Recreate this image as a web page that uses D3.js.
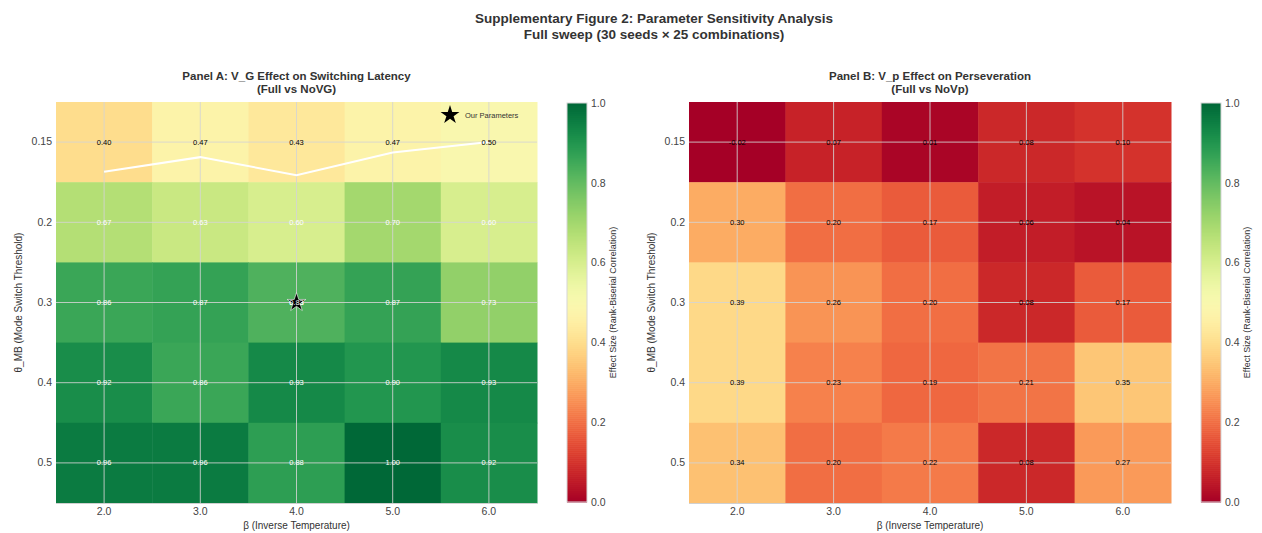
<!DOCTYPE html>
<html>
<head>
<meta charset="utf-8">
<script src="https://cdn.jsdelivr.net/npm/d3@7"></script>
<style>
    body { margin: 0; background: #fff; }
    svg { font-family: "Liberation Sans", Arial, sans-serif; }
</style>
</head>
<body>
<svg id="chart" width="1262" height="533"></svg>
<script>
// beta (columns) and theta_MB (rows)
const betaLabels = ['2.0', '3.0', '4.0', '5.0', '6.0'];
const thetaLabels = ['0.15', '0.2', '0.3', '0.4', '0.5'];

// Panel A: V_G effect on switching latency (Full vs NoVG)
const valuesVG = [
    [0.40, 0.47, 0.43, 0.47, 0.50],
    [0.67, 0.63, 0.60, 0.70, 0.60],
    [0.86, 0.87, 0.83, 0.87, 0.73],
    [0.92, 0.86, 0.93, 0.90, 0.93],
    [0.96, 0.96, 0.88, 1.00, 0.92]
];

// Panel B: V_p effect on perseveration (Full vs NoVp)
const valuesVp = [
    [-0.02, 0.07, 0.01, 0.08, 0.10],
    [0.30, 0.20, 0.17, 0.06, 0.04],
    [0.39, 0.26, 0.20, 0.08, 0.17],
    [0.39, 0.23, 0.19, 0.21, 0.35],
    [0.34, 0.20, 0.22, 0.08, 0.27]
];

const colorTicks = [0, 0.2, 0.4, 0.6, 0.8, 1.0];
const ourParams = { beta: '4.0', theta: '0.3' };
const contourLevel = 0.5;

const textColor = '#333';
const color = d3.scaleSequential(d3.interpolateRdYlGn).domain([0, 1]).clamp(true);

const svg = d3.select('#chart');

svg.append('text')
    .attr('x', 654)
    .attr('y', 23)
    .attr('text-anchor', 'middle')
    .attr('font-size', 13.5)
    .attr('font-weight', 'bold')
    .attr('fill', textColor)
    .text('Supplementary Figure 2: Parameter Sensitivity Analysis');

svg.append('text')
    .attr('x', 654)
    .attr('y', 39)
    .attr('text-anchor', 'middle')
    .attr('font-size', 13.5)
    .attr('font-weight', 'bold')
    .attr('fill', textColor)
    .text('Full sweep (30 seeds \u00d7 25 combinations)');

function drawPanel(opts) {
    const { left, right, top, bottom, values, title, subtitle, cbarX, showStar, showContour } = opts;

    const x = d3.scaleBand().domain(betaLabels).range([left, right]).padding(0);
    const y = d3.scaleBand().domain(thetaLabels).range([top, bottom]).padding(0);
    const g = svg.append('g');

    const cells = [];
    values.forEach((row, ri) => {
        row.forEach((v, ci) => {
            cells.push({ beta: betaLabels[ci], theta: thetaLabels[ri], v });
        });
    });

    g.selectAll('rect.cell')
        .data(cells)
        .enter()
        .append('rect')
        .attr('class', 'cell')
        .attr('x', d => x(d.beta))
        .attr('y', d => y(d.theta))
        .attr('width', x.bandwidth() + 0.5)
        .attr('height', y.bandwidth() + 0.5)
        .attr('fill', d => color(d.v));

    // grid at tick positions
    g.selectAll('line.gx')
        .data(betaLabels)
        .enter()
        .append('line')
        .attr('x1', d => x(d) + x.bandwidth() / 2)
        .attr('x2', d => x(d) + x.bandwidth() / 2)
        .attr('y1', top)
        .attr('y2', bottom)
        .attr('stroke', '#d4d4d4')
        .attr('stroke-opacity', 0.85)
        .attr('stroke-width', 1);

    g.selectAll('line.gy')
        .data(thetaLabels)
        .enter()
        .append('line')
        .attr('x1', left)
        .attr('x2', right)
        .attr('y1', d => y(d) + y.bandwidth() / 2)
        .attr('y2', d => y(d) + y.bandwidth() / 2)
        .attr('stroke', '#d4d4d4')
        .attr('stroke-opacity', 0.85)
        .attr('stroke-width', 1);

    if (showContour) {
        // contour of contourLevel, interpolated down each column between row centres
        const rowPos = d3.scaleLinear()
            .domain([0, thetaLabels.length - 1])
            .range([y(thetaLabels[0]) + y.bandwidth() / 2, y(thetaLabels[thetaLabels.length - 1]) + y.bandwidth() / 2]);
        const pts = [];
        betaLabels.forEach((b, ci) => {
            for (let ri = 0; ri < values.length - 1; ri++) {
                const a = values[ri][ci];
                const c = values[ri + 1][ci];
                if ((a - contourLevel) * (c - contourLevel) <= 0 && a !== c) {
                    const t = (contourLevel - a) / (c - a);
                    pts.push([x(b) + x.bandwidth() / 2, rowPos(ri + t)]);
                    break;
                }
            }
        });
        g.append('path')
            .attr('d', d3.line()(pts))
            .attr('fill', 'none')
            .attr('stroke', '#fff')
            .attr('stroke-width', 2);
    }

    g.selectAll('text.val')
        .data(cells)
        .enter()
        .append('text')
        .attr('x', d => x(d.beta) + x.bandwidth() / 2)
        .attr('y', d => y(d.theta) + y.bandwidth() / 2 + 2.5)
        .attr('text-anchor', 'middle')
        .attr('font-size', 7.5)
        .attr('fill', d => (d.v > 0.5 ? '#fff' : '#000'))
        .text(d => d.v.toFixed(2));

    if (showStar) {
        const star = d3.symbol().type(d3.symbolStar).size(110);
        g.append('path')
            .attr('d', star())
            .attr('transform', `translate(${x(ourParams.beta) + x.bandwidth() / 2},${y(ourParams.theta) + y.bandwidth() / 2})`)
            .attr('fill', '#000')
            .attr('stroke', '#fff')
            .attr('stroke-width', 0.6);
        // re-draw that cell's value over the star
        const c = cells.find(d => d.beta === ourParams.beta && d.theta === ourParams.theta);
        g.append('text')
            .attr('x', x(c.beta) + x.bandwidth() / 2)
            .attr('y', y(c.theta) + y.bandwidth() / 2 + 2.5)
            .attr('text-anchor', 'middle')
            .attr('font-size', 7.5)
            .attr('fill', '#fff')
            .text(c.v.toFixed(2));

        // legend
        g.append('path')
            .attr('d', star())
            .attr('transform', `translate(${right - 87},${top + 13})`)
            .attr('fill', '#000');
        g.append('text')
            .attr('x', right - 72)
            .attr('y', top + 16)
            .attr('font-size', 7.5)
            .attr('fill', textColor)
            .text('Our Parameters');
    }

    // bottom spine
    g.append('line')
        .attr('x1', left)
        .attr('x2', right)
        .attr('y1', bottom + 0.5)
        .attr('y2', bottom + 0.5)
        .attr('stroke', '#d0d0d0');

    // axes
    const xAxis = d3.axisBottom(x).tickSize(0).tickPadding(5);
    g.append('g')
        .attr('transform', `translate(0,${bottom})`)
        .call(xAxis)
        .call(s => s.select('.domain').remove())
        .selectAll('text')
        .attr('font-size', 10.5)
        .attr('fill', '#444')
        .attr('font-family', '"Liberation Sans", Arial, sans-serif');

    const yAxis = d3.axisLeft(y).tickSize(0).tickPadding(4);
    g.append('g')
        .attr('transform', `translate(${left},0)`)
        .call(yAxis)
        .call(s => s.select('.domain').remove())
        .selectAll('text')
        .attr('font-size', 10.5)
        .attr('fill', '#444')
        .attr('font-family', '"Liberation Sans", Arial, sans-serif');

    g.append('text')
        .attr('x', (left + right) / 2)
        .attr('y', bottom + 26)
        .attr('text-anchor', 'middle')
        .attr('font-size', 10)
        .attr('fill', textColor)
        .text('\u03b2 (Inverse Temperature)');

    g.append('text')
        .attr('transform', `translate(${left - 34},${(top + bottom) / 2}) rotate(-90)`)
        .attr('text-anchor', 'middle')
        .attr('font-size', 10)
        .attr('fill', textColor)
        .text('\u03b8_MB (Mode Switch Threshold)');

    g.append('text')
        .attr('x', (left + right) / 2)
        .attr('y', top - 22)
        .attr('text-anchor', 'middle')
        .attr('font-size', 11.5)
        .attr('font-weight', 'bold')
        .attr('fill', textColor)
        .text(title);

    g.append('text')
        .attr('x', (left + right) / 2)
        .attr('y', top - 9)
        .attr('text-anchor', 'middle')
        .attr('font-size', 11.5)
        .attr('font-weight', 'bold')
        .attr('fill', textColor)
        .text(subtitle);

    // colorbar
    const cbW = 20;
    const cb = d3.scaleLinear().domain([0, 1]).range([bottom - 1, top + 1]);
    const step = 0.005;
    const steps = d3.range(0, 1 - step / 2, step);
    g.selectAll('rect.cb')
        .data(steps)
        .enter()
        .append('rect')
        .attr('x', cbarX)
        .attr('y', d => cb(d + step))
        .attr('width', cbW)
        .attr('height', d => cb(d) - cb(d + step) + 0.6)
        .attr('fill', d => color(d + step / 2));

    g.append('rect')
        .attr('x', cbarX)
        .attr('y', cb(1))
        .attr('width', cbW)
        .attr('height', cb(0) - cb(1))
        .attr('fill', 'none')
        .attr('stroke', '#d6d6d6');

    g.append('g')
        .attr('transform', `translate(${cbarX + cbW},0)`)
        .call(d3.axisRight(cb).tickValues(colorTicks).tickFormat(d3.format('.1f')).tickSize(0).tickPadding(4))
        .call(s => s.select('.domain').remove())
        .selectAll('text')
        .attr('font-size', 10.5)
        .attr('fill', '#444')
        .attr('font-family', '"Liberation Sans", Arial, sans-serif');

    g.append('text')
        .attr('transform', `translate(${cbarX + 49},${(top + bottom) / 2}) rotate(-90)`)
        .attr('text-anchor', 'middle')
        .attr('font-size', 9)
        .attr('fill', textColor)
        .text('Effect Size (Rank-Biserial Correlation)');
}

drawPanel({
    left: 56, right: 537, top: 102, bottom: 503,
    values: valuesVG,
    title: 'Panel A: V_G Effect on Switching Latency',
    subtitle: '(Full vs NoVG)',
    cbarX: 567,
    showStar: true,
    showContour: true
});

drawPanel({
    left: 689, right: 1171, top: 102, bottom: 503,
    values: valuesVp,
    title: 'Panel B: V_p Effect on Perseveration',
    subtitle: '(Full vs NoVp)',
    cbarX: 1201,
    showStar: false,
    showContour: false
});
</script>
</body>
</html>
